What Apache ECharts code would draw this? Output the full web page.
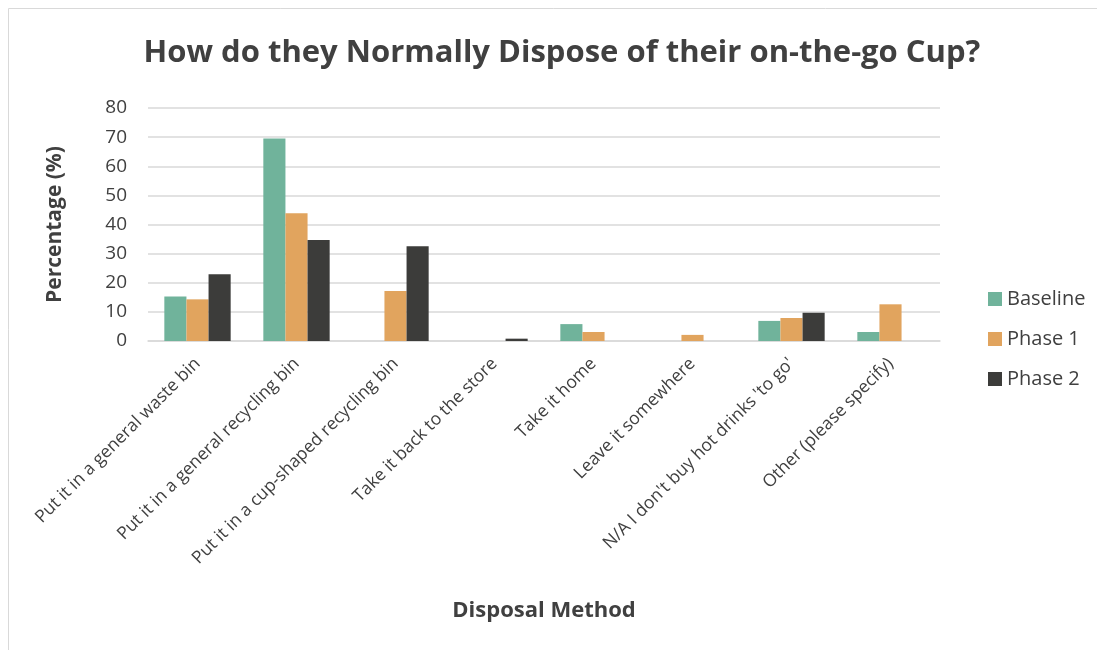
<!DOCTYPE html>
<html><head><meta charset="utf-8">
<script src="https://cdn.jsdelivr.net/npm/echarts@6/dist/echarts.min.js"></script>
<style>html,body{margin:0;padding:0;background:#fff}#c{width:1097px;height:650px}</style>
</head><body><div id="c"></div>
<script>
const categories = [
  "Put it in a general waste bin",
  "Put it in a general recycling bin",
  "Put it in a cup-shaped recycling bin",
  "Take it back to the store",
  "Take it home",
  "Leave it somewhere",
  "N/A I don't buy hot drinks 'to go'",
  "Other (please specify)"
];
const baseline = [15.3, 69.5, 0, 0, 5.8, 0, 6.9, 3.1];
const phase1   = [14.3, 43.9, 17.2, 0, 3.1, 2.1, 7.9, 12.6];
const phase2   = [22.9, 34.7, 32.5, 0.8, 0, 0, 9.7, 0];
const yTicks = [0, 10, 20, 30, 40, 50, 60, 70, 80];

const FONT = "'Open Sans', sans-serif";
const TXT = '#404040';
const chart = echarts.init(document.getElementById('c'));
chart.setOption({
  animation: false,
  textStyle: { fontFamily: FONT, color: TXT },
  graphic: [{
    type: 'rect', silent: true,
    shape: { x: 8.5, y: 8.5, width: 1200, height: 1000 },
    style: { fill: 'none', stroke: '#d9d9d9', lineWidth: 1 }
  }],
  title: {
    text: 'How do they Normally Dispose of their on-the-go Cup?',
    left: 557, top: 33, textAlign: 'center',
    textStyle: { fontFamily: FONT, fontWeight: 'bold', fontSize: 31, color: TXT }
  },
  legend: {
    orient: 'vertical', left: 983, top: 283,
    itemWidth: 14, itemHeight: 14, itemGap: 18,
    icon: 'rect',
    textStyle: { fontFamily: FONT, fontSize: 20, color: TXT, lineHeight: 22 },
    data: ['Baseline', 'Phase 1', 'Phase 2']
  },
  grid: { left: 148, right: 157, top: 108, bottom: 309, containLabel: false },
  xAxis: {
    type: 'category', data: categories,
    name: 'Disposal Method', nameLocation: 'middle', nameGap: 259,
    nameTextStyle: { fontFamily: FONT, fontWeight: 'bold', fontSize: 22, color: TXT },
    axisLine: { lineStyle: { color: '#d9d9d9', width: 1.5 } },
    axisTick: { show: false },
    axisLabel: { rotate: 45, interval: 0, fontFamily: FONT, fontSize: 17.5, color: TXT, margin: 20 }
  },
  yAxis: {
    type: 'value', min: 0, max: 80, interval: 10,
    name: 'Percentage (%)', nameLocation: 'middle', nameGap: 82, nameRotate: 90,
    nameTextStyle: { fontFamily: FONT, fontWeight: 'bold', fontSize: 21, color: TXT },
    axisLine: { show: false }, axisTick: { show: false },
    axisLabel: { fontFamily: FONT, fontSize: 19, color: TXT, margin: 21,
      formatter: v => yTicks.includes(v) ? String(v) : '' },
    splitLine: { lineStyle: { color: '#d9d9d9', width: 1.5 } }
  },
  series: [
    { name: 'Baseline', type: 'bar', data: baseline, itemStyle: { color: '#70b39b' }, barGap: '0%', barCategoryGap: '33%' },
    { name: 'Phase 1', type: 'bar', data: phase1, itemStyle: { color: '#e1a45e' }, barGap: '0%', barCategoryGap: '33%' },
    { name: 'Phase 2', type: 'bar', data: phase2, itemStyle: { color: '#3c3c3a' }, barGap: '0%', barCategoryGap: '33%' }
  ]
});
</script></body></html>
